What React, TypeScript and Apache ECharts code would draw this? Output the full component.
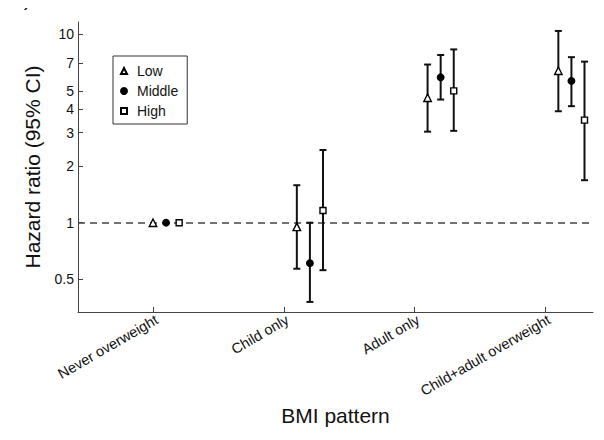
import React, { useEffect, useRef } from "react";
import * as echarts from "echarts";

const categories = ["Never overweight", "Child only", "Adult only", "Child+adult overweight"];
const seriesNames = ["Low", "Middle", "High"];

// Hazard ratios and 95% CI per series, in category order
const lowHR = [1.0, 0.95, 4.6, 6.4];
const lowLower = [null, 0.57, 3.04, 3.9];
const lowUpper = [null, 1.58, 6.9, 10.4];

const middleHR = [1.0, 0.61, 5.9, 5.65];
const middleLower = [null, 0.38, 4.5, 4.15];
const middleUpper = [null, 1.0, 7.75, 7.55];

const highHR = [1.0, 1.16, 5.0, 3.5];
const highLower = [null, 0.56, 3.07, 1.68];
const highUpper = [null, 2.43, 8.3, 7.15];

const yTicks = [0.5, 1, 2, 3, 4, 5, 7, 10];
const xTicks = [1, 2, 3, 4];

// horizontal offsets of each series within a category (x units)
const offsets = [
  [0, 0.1, 0.1, 0.1],
  [0.1, 0.2, 0.2, 0.2],
  [0.2, 0.3, 0.3, 0.3],
];

const FONT = "'Liberation Sans', Arial, sans-serif";

export default function App() {
  const ref = useRef<HTMLDivElement>(null);

  useEffect(() => {
    if (!ref.current) return;
    const chart = echarts.init(ref.current, undefined, { renderer: "svg" });

    const hr = [lowHR, middleHR, highHR];
    const lo = [lowLower, middleLower, highLower];
    const hi = [lowUpper, middleUpper, highUpper];
    const symbols = ["triangle", "circle", "rect"];
    const sizes = [7.5, 6.5, 6];
    const fills = ["#ffffff", "#000000", "#ffffff"];

    const errSeries = seriesNames.map((name, s) => ({
      type: "custom",
      name: name + " CI",
      z: 2,
      silent: true,
      data: categories.map((_, i) => [xTicks[i] + offsets[s][i], lo[s][i], hi[s][i]]),
      encode: { x: 0, y: [1, 2] },
      renderItem: (params: any, api: any) => {
        const x = api.value(0);
        const l = api.value(1);
        const h = api.value(2);
        if (l == null || h == null || isNaN(l) || isNaN(h)) return null;
        const pL = api.coord([x, l]);
        const pH = api.coord([x, h]);
        const hw = 3.5;
        const style = { stroke: "#111", lineWidth: 2, fill: null };
        return {
          type: "group",
          children: [
            { type: "line", shape: { x1: pL[0], y1: pL[1], x2: pH[0], y2: pH[1] }, style },
            { type: "line", shape: { x1: pL[0] - hw, y1: pL[1], x2: pL[0] + hw, y2: pL[1] }, style },
            { type: "line", shape: { x1: pH[0] - hw, y1: pH[1], x2: pH[0] + hw, y2: pH[1] }, style },
          ],
        };
      },
    }));

    const pointSeries = seriesNames.map((name, s) => ({
      type: "scatter",
      name,
      z: 4,
      symbol: symbols[s],
      symbolSize: sizes[s],
      itemStyle: { color: fills[s], borderColor: "#000", borderWidth: 1.4, opacity: 1 },
      data: categories.map((_, i) => [xTicks[i] + offsets[s][i], hr[s][i]]),
      markLine:
        s === 0
          ? {
              silent: true,
              symbol: ["none", "none"],
              label: { show: false },
              lineStyle: { color: "#444", type: [7, 5], width: 1.5 },
              data: [{ yAxis: 1 }],
              z: 1,
            }
          : undefined,
    }));

    chart.setOption({
      animation: false,
      backgroundColor: "#ffffff",
      textStyle: { fontFamily: FONT },
      grid: { left: 78, right: 11, top: 22, bottom: 128 },
      legend: {
        data: seriesNames,
        orient: "vertical",
        left: 113,
        top: 56,
        borderColor: "#333",
        borderWidth: 1,
        padding: [8, 9, 6, 7],
        itemWidth: 6,
        itemHeight: 6,
        itemGap: 6,
        textStyle: { fontSize: 14, lineHeight: 14, color: "#111", fontFamily: FONT, padding: [0, 0, 0, 5] },
      },
      xAxis: {
        type: "value",
        min: 0.4265,
        max: 4.365,
        name: "BMI pattern",
        nameLocation: "middle",
        nameGap: 91,
        nameTextStyle: { fontSize: 21, color: "#111", fontFamily: FONT },
        axisLine: { show: true, lineStyle: { color: "#444", width: 1 } },
        axisTick: { show: true, inside: true, length: 5, customValues: xTicks, lineStyle: { color: "#444" } },
        axisLabel: {
          customValues: xTicks,
          rotate: 30,
          margin: 0,
          align: "right",
          verticalAlign: "top",
          fontSize: 14.5,
          color: "#111",
          fontFamily: FONT,
          formatter: (v: number) => categories[Math.round(v) - 1] ?? "",
        },
        splitLine: { show: false },
      },
      yAxis: {
        type: "log",
        logBase: 10,
        min: 0.336,
        max: 11.6,
        name: "Hazard ratio (95% CI)",
        nameLocation: "middle",
        nameGap: 35,
        nameTextStyle: { fontSize: 21, color: "#111", fontFamily: FONT },
        axisLine: { show: true, lineStyle: { color: "#444", width: 1 } },
        axisTick: { show: true, inside: true, length: 5, customValues: yTicks, lineStyle: { color: "#444" } },
        axisLabel: {
          customValues: yTicks,
          margin: 4,
          fontSize: 14,
          color: "#111",
          fontFamily: FONT,
          formatter: (v: number) => String(v),
        },
        splitLine: { show: false },
      },
      graphic: [
        {
          type: "line",
          shape: { x1: 6, y1: 5.5, x2: 604, y2: 5.5 },
          style: { stroke: "#e6e6e6", lineWidth: 1 },
          silent: true,
        },
        {
          type: "text",
          x: 3,
          y: -3,
          style: { text: "E )", fontSize: 22, fontFamily: FONT, fill: "#111", verticalAlign: "middle" },
          silent: true,
        },
      ],
      series: [...errSeries, ...pointSeries],
    });

    return () => chart.dispose();
  }, []);

  return <div ref={ref} style={{ width: 604, height: 440, margin: -8 }} />;
}
